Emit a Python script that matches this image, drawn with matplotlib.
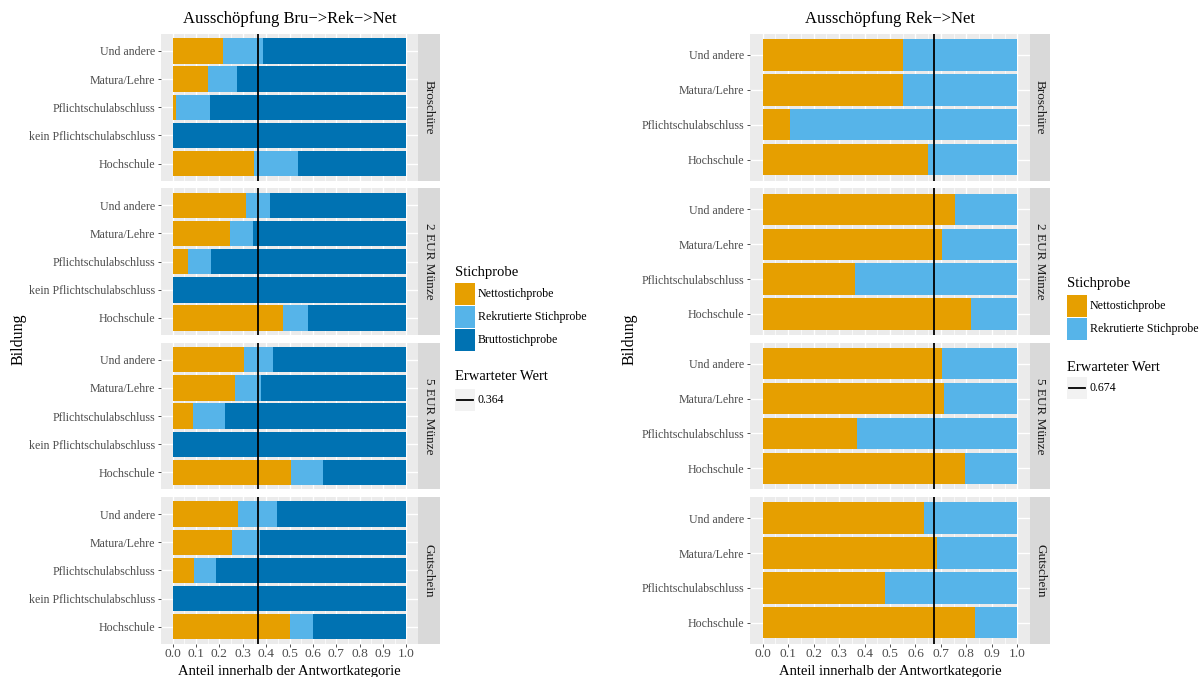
import matplotlib
matplotlib.use("Agg")
import matplotlib.pyplot as plt
from matplotlib.patches import Rectangle
from matplotlib.lines import Line2D
import numpy as np

plt.rcParams['font.family'] = ['Liberation Serif', 'DejaVu Serif']

# ---- data -------------------------------------------------------------
gruppen = ["Broschüre", "2 EUR Münze", "5 EUR Münze", "Gutschein"]

# bottom-to-top order of the education categories
bildung_bru = ["Hochschule", "kein Pflichtschulabschluss", "Pflichtschulabschluss",
               "Matura/Lehre", "Und andere"]
bildung_rek = ["Hochschule", "Pflichtschulabschluss", "Matura/Lehre", "Und andere"]

# Bru->Rek->Net: shares per group (rows follow bildung_bru)
netto_bru = [
    [0.349, 0.0, 0.016, 0.152, 0.217],
    [0.473, 0.0, 0.065, 0.244, 0.314],
    [0.507, 0.0, 0.085, 0.268, 0.307],
    [0.503, 0.0, 0.092, 0.254, 0.281],
]
rekrutiert_bru = [
    [0.188, 0.0, 0.142, 0.125, 0.171],
    [0.107, 0.0, 0.101, 0.101, 0.104],
    [0.136, 0.0, 0.141, 0.110, 0.123],
    [0.098, 0.0, 0.095, 0.120, 0.166],
]
brutto_bru = [
    [0.463, 1.0, 0.842, 0.723, 0.612],
    [0.420, 1.0, 0.834, 0.655, 0.582],
    [0.357, 1.0, 0.774, 0.622, 0.570],
    [0.399, 1.0, 0.813, 0.626, 0.553],
]

# Rek->Net: shares per group (rows follow bildung_rek)
netto_rek = [
    [0.649, 0.106, 0.551, 0.551],
    [0.820, 0.364, 0.703, 0.755],
    [0.794, 0.372, 0.711, 0.703],
    [0.833, 0.481, 0.684, 0.632],
]
rekrutiert_rek = [
    [0.351, 0.894, 0.449, 0.449],
    [0.180, 0.636, 0.297, 0.245],
    [0.206, 0.628, 0.289, 0.297],
    [0.167, 0.519, 0.316, 0.368],
]

erwartet_bru = 0.364
erwartet_rek = 0.674

serien_bru = ["Nettostichprobe", "Rekrutierte Stichprobe", "Bruttostichprobe"]
serien_rek = ["Nettostichprobe", "Rekrutierte Stichprobe"]
farben = {"Nettostichprobe": "#E69F00",
          "Rekrutierte Stichprobe": "#56B4E9",
          "Bruttostichprobe": "#0072B2"}

# ---- figure -----------------------------------------------------------
W, H = 1203, 677
fig = plt.figure(figsize=(W / 100, H / 100), dpi=100)


def fx(x):
    return x / W


def fy(y):
    return 1 - y / H


def px_axes(x0, y0, x1, y1):
    return fig.add_axes([fx(x0), fy(y1), (x1 - x0) / W, (y1 - y0) / H])


TICK_GREY = "#4D4D4D"
panel_tops = [34, 188.4, 342.8, 497.2]
panel_h = 146.5


def draw_panel(ax, cats, segments, names, vline, show_x):
    y = np.arange(len(cats))
    left = np.zeros(len(cats))
    for vals, name in zip(segments, names):
        vals = np.asarray(vals, dtype=float)
        ax.barh(y, vals, left=left, height=0.9, color=farben[name], linewidth=0)
        left += vals
    ax.axvline(vline, color="black", lw=1.3, zorder=5)
    ax.set_xlim(-0.05, 1.05)
    ax.set_ylim(-0.6, len(cats) - 0.4)
    ax.set_facecolor("#EBEBEB")
    ax.set_xticks(np.round(np.arange(0, 1.01, 0.1), 1))
    ax.set_xticks(np.arange(0.05, 1.0, 0.1), minor=True)
    ax.set_xticklabels([f"{v:.1f}" for v in np.arange(0, 1.01, 0.1)])
    ax.set_yticks(y)
    ax.set_yticklabels(cats)
    ax.grid(which="major", color="white", lw=1.0)
    ax.grid(which="minor", axis="x", color="white", lw=0.5)
    ax.set_axisbelow(True)
    for s in ax.spines.values():
        s.set_visible(False)
    ax.tick_params(axis="both", which="major", length=2.4, width=0.6,
                   color="#333333", labelcolor=TICK_GREY, labelsize=8.6, pad=1.8)
    ax.tick_params(axis="x", which="major", labelsize=9.7, pad=0.8)
    ax.tick_params(axis="x", which="minor", length=0)
    if not show_x:
        ax.tick_params(axis="x", which="major", labelbottom=False, bottom=False)


def draw_strip(x0, x1, y0, y1, label):
    sax = px_axes(x0, y0, x1, y1)
    sax.set_facecolor("#D9D9D9")
    sax.set_xticks([])
    sax.set_yticks([])
    for s in sax.spines.values():
        s.set_visible(False)
    sax.text(0.5, 0.5, label, rotation=-90, ha="center", va="center",
             color="#1A1A1A", fontsize=9.5, transform=sax.transAxes)


def draw_block(px0, px1, sx1, cats, seg_lists, names, vline, title, ylabel_x):
    for i, g in enumerate(gruppen):
        top = panel_tops[i]
        ax = px_axes(px0, top, px1, top + panel_h)
        segs = [s[i] for s in seg_lists]
        draw_panel(ax, cats, segs, names, vline, show_x=(i == len(gruppen) - 1))
        draw_strip(px1, sx1, top, top + panel_h, g)
    cx = (px0 + px1) / 2
    fig.text(fx(cx), fy(19), title, ha="center", va="center", fontsize=12)
    fig.text(fx(cx), fy(675.5), "Anteil innerhalb der Antwortkategorie",
             ha="center", va="baseline", fontsize=10.5)
    fig.text(fx(ylabel_x), fy((panel_tops[0] + panel_tops[-1] + panel_h) / 2),
             "Bildung", rotation=90, ha="center", va="center", fontsize=11.5)


def draw_legend(x, title_y, key_top, key_h, names, ew_title_y, ew_key_top, value):
    fig.text(fx(x), fy(title_y), "Stichprobe", ha="left", va="center", fontsize=10.5)
    for k, name in enumerate(names):
        t = key_top + k * (key_h + 1.3)
        fig.patches.append(Rectangle((fx(x), fy(t + key_h)), 20 / W, key_h / H,
                                     transform=fig.transFigure,
                                     facecolor=farben[name], edgecolor="none"))
        fig.text(fx(x + 23), fy(t + key_h / 2), name, ha="left", va="center",
                 fontsize=8.6)
    fig.text(fx(x), fy(ew_title_y), "Erwarteter Wert", ha="left", va="center",
             fontsize=10.5)
    fig.patches.append(Rectangle((fx(x), fy(ew_key_top + 22)), 20 / W, 22 / H,
                                 transform=fig.transFigure,
                                 facecolor="#F2F2F2", edgecolor="none"))
    ly = fy(ew_key_top + 11)
    fig.lines.append(Line2D([fx(x + 2), fx(x + 18)], [ly, ly], color="black",
                            lw=1.3, transform=fig.transFigure))
    fig.text(fx(x + 23), ly, f"{value:.3f}", ha="left", va="center", fontsize=8.6)


# Left: Bru -> Rek -> Net
draw_block(161, 418, 440, bildung_bru,
           [netto_bru, rekrutiert_bru, brutto_bru], serien_bru,
           erwartet_bru, "Ausschöpfung Bru\u2212>Rek\u2212>Net", 19)
draw_legend(455, 272.7, 283.3, 21.7, serien_bru, 376.7, 388.8, erwartet_bru)

# Right: Rek -> Net
draw_block(750, 1030, 1050, bildung_rek,
           [netto_rek, rekrutiert_rek], serien_rek,
           erwartet_rek, "Ausschöpfung Rek\u2212>Net", 630)
draw_legend(1067, 283.3, 295, 21.7, serien_rek, 367.3, 377, erwartet_rek)

fig.savefig("out.png", dpi=100)
